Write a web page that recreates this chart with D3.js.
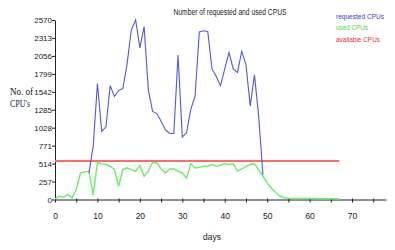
<!DOCTYPE html>
<html><head><meta charset="utf-8">
<script src="https://cdn.jsdelivr.net/npm/d3@7/dist/d3.min.js"></script>
<style>body{margin:0;background:#fff}svg{display:block}</style>
</head><body>
<svg id="c" width="395" height="250"></svg>
<script>
const reqDays = [8,9,10,11,12,13,14,15,16,17,18,19,20,21,22,23,24,25,26,27,28,29,30,31,32,33,34,35,36,37,38,39,40,41,42,43,44,45,46,47,48,49];
const requested = [381,760,1660,975,1040,1630,1475,1560,1590,1950,2430,2570,2170,2475,1570,1260,1230,1120,1000,945,945,2070,895,955,1290,1475,2400,2415,2405,1870,1760,1630,1870,2105,1870,1820,2120,1930,1340,1785,1190,357];
const usedDays = d3.range(0,68);
const used = [10,47,33,71,24,143,380,395,404,61,533,510,500,476,428,190,428,452,428,404,485,333,404,533,524,440,381,438,440,404,380,309,514,452,460,476,480,500,476,490,514,500,514,404,438,470,500,514,428,333,238,160,100,50,25,19,15,15,14,14,13,13,12,12,12,11,11,10];
const availDays = [0,67];
const available = [551,551];
const yTicks = [0,257,514,771,1028,1285,1542,1799,2056,2313,2570];
const xTicks = [0,5,10,15,20,25,30,35,40,45,50,55,60,65,70,75];
const xLabels = [0,10,20,30,40,50,60,70];
const legend = [["requested CPUs","#3a3ae0"],["used CPUs","#44dd44"],["available CPUs","#ee3030"]];

const svg = d3.select("#c");
const x = d3.scaleLinear().domain([0,78]).range([55,386]);
const y = d3.scaleLinear().domain([0,2570]).range([199.5,20]);

// axes
const gx = svg.append("g").attr("transform","translate(0,199.5)")
  .call(d3.axisBottom(x).tickValues(xTicks).tickSize(3).tickSizeOuter(0).tickFormat(d=>xLabels.includes(d)?String(d):""));
gx.selectAll("text").attr("dy","1.6em").attr("font-size","8.5px").attr("font-family","Liberation Sans, Arial, sans-serif").attr("fill","#222");
gx.select(".domain").attr("stroke","#222");
gx.selectAll(".tick line").attr("stroke","#222").attr("y1",-1);

const gy = svg.append("g").attr("transform","translate(55,0)")
  .call(d3.axisLeft(y).tickValues(yTicks).tickSize(3).tickSizeOuter(0).tickFormat(d=>String(d)));
gy.selectAll("text").attr("font-size","8px").attr("font-family","Liberation Sans, Arial, sans-serif").attr("fill","#222").attr("x",-3);
gy.select(".domain").attr("stroke","#222");
gy.selectAll(".tick line").attr("stroke","#222");

// lines
const line = (xs, ys) => d3.line().x((d,i)=>x(xs[i])).y(d=>y(d))(ys);
svg.append("path").attr("d",line(availDays,available)).attr("fill","none").attr("stroke","#ff6a6a").attr("stroke-width",2);
svg.append("path").attr("d",line(usedDays,used)).attr("fill","none").attr("stroke","#70ee70").attr("stroke-width",1.5);
svg.append("path").attr("d",line(reqDays,requested)).attr("fill","none").attr("stroke","#5555e0").attr("stroke-width",1.1);

// title
svg.append("text").attr("x",230).attr("y",15).attr("text-anchor","middle")
  .attr("font-family","Liberation Sans, Arial, sans-serif").attr("font-size","8.5px").attr("fill","#222")
  .attr("textLength",113).attr("lengthAdjust","spacingAndGlyphs")
  .text("Number of requested and used CPUS");

// legend
const lw = [48,32,44];
legend.forEach((l,i)=>{
  svg.append("text").attr("x",336).attr("y",19+i*11.3)
    .attr("font-family","Liberation Sans, Arial, sans-serif").attr("font-size","7px").attr("fill",l[1])
    .attr("textLength",lw[i]).attr("lengthAdjust","spacingAndGlyphs").text(l[0]);
});

// axis labels
svg.append("text").attr("x",10).attr("y",95).attr("font-family","Liberation Serif, Times New Roman, serif")
  .attr("font-size","9.5px").attr("fill","#111").attr("textLength",23).attr("lengthAdjust","spacingAndGlyphs").text("No. of");
svg.append("text").attr("x",10).attr("y",107).attr("font-family","Liberation Serif, Times New Roman, serif")
  .attr("font-size","9.5px").attr("fill","#1a2a5a").attr("textLength",20).attr("lengthAdjust","spacingAndGlyphs").text("CPU's");
svg.append("text").attr("x",212).attr("y",240).attr("text-anchor","middle")
  .attr("font-family","Liberation Sans, Arial, sans-serif").attr("font-size","8.5px").attr("fill","#222").text("days");
</script>
</body></html>
